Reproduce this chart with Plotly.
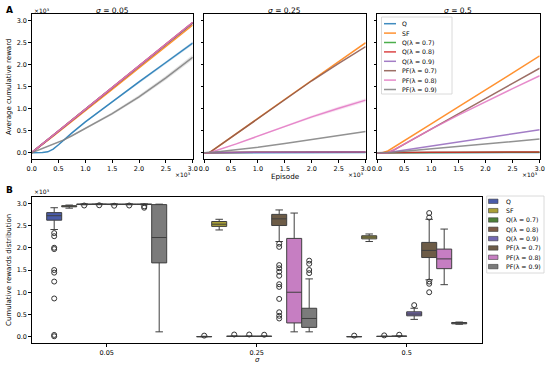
import plotly.graph_objects as go

W, H = 550, 366
FONT = "DejaVu Sans"


def px(x):
    return x / W


def py(y):
    return 1 - y / H


# ---------------- data ----------------
SERIES = ["Q", "SF", "Q(λ = 0.7)", "Q(λ = 0.8)", "Q(λ = 0.9)",
          "PF(λ = 0.7)", "PF(λ = 0.8)", "PF(λ = 0.9)"]
LINE_COLORS = ["#1f77b4", "#ff7f0e", "#2ca02c", "#d62728", "#9467bd",
               "#8c564b", "#e377c2", "#7f7f7f"]
BOX_COLORS = ["#4a5ba8", "#aaa036", "#4d8038", "#7e5b47", "#7468b2",
              "#6d5c47", "#c67ec2", "#7b7b7b"]
SIGMAS = ["0.05", "0.25", "0.5"]

EPISODES = [0, 100, 200, 300, 400, 500, 600, 750, 1000, 1500, 2000, 2500, 3000]

# sigma = 0.05
q_005 = [0, 0, 3, 20, 80, 180, 290, 450, 700, 1160, 1610, 2050, 2490]
sf_005 = [0, 90, 185, 280, 375, 475, 570, 715, 955, 1440, 1925, 2410, 2900]
q07_005 = [0, 95, 195, 295, 390, 490, 590, 740, 985, 1475, 1965, 2455, 2945]
q08_005 = [0, 98, 197, 296, 394, 493, 592, 740, 987, 1480, 1973, 2466, 2960]
q09_005 = [0, 96, 195, 294, 392, 490, 589, 737, 983, 1474, 1965, 2456, 2950]
pf07_005 = [0, 97, 196, 295, 393, 492, 590, 738, 985, 1477, 1969, 2461, 2955]
pf08_005 = [0, 98, 197, 296, 394, 493, 592, 740, 987, 1480, 1974, 2468, 2965]
pf09_005 = [0, 50, 100, 145, 195, 240, 290, 385, 550, 890, 1270, 1700, 2170]

# sigma = 0.25
q_025 = [0, 0, 1, 1, 1, 2, 2, 2, 2, 3, 3, 3, 3]
sf_025 = [0, 0, 85, 170, 255, 345, 430, 560, 780, 1215, 1645, 2075, 2500]
q07_025 = [0, 2, 4, 5, 6, 7, 7, 8, 9, 10, 10, 11, 12]
q08_025 = [0, 2, 4, 6, 7, 8, 8, 9, 10, 11, 12, 13, 14]
q09_025 = [0, 3, 5, 7, 8, 9, 10, 11, 12, 13, 14, 15, 16]
pf07_025 = [0, 0, 85, 170, 255, 345, 430, 560, 780, 1210, 1635, 2030, 2410]
pf08_025 = [0, 0, 40, 75, 115, 160, 200, 265, 375, 605, 815, 1010, 1195]
pf09_025 = [0, 0, 15, 28, 40, 55, 68, 88, 125, 210, 295, 385, 480]

# sigma = 0.5
q_05 = [0, 0, 1, 1, 1, 1, 2, 2, 2, 2, 2, 3, 3]
sf_05 = [0, 0, 40, 115, 190, 270, 350, 465, 655, 1040, 1430, 1815, 2200]
q07_05 = [0, 1, 2, 3, 4, 5, 5, 6, 6, 7, 8, 8, 9]
q08_05 = [0, 2, 4, 5, 6, 7, 8, 9, 10, 12, 13, 14, 15]
q09_05 = [0, 0, 0, 19, 37, 56, 74, 102, 149, 242, 334, 427, 520]
pf07_05 = [0, 0, 0, 55, 125, 195, 265, 365, 540, 885, 1230, 1575, 1920]
pf08_05 = [0, 0, 0, 55, 125, 195, 265, 365, 535, 855, 1160, 1455, 1750]
pf09_05 = [0, 0, 0, 11, 22, 33, 44, 61, 89, 144, 200, 255, 310]

# spread (shaded bands)
q_005_spread = [0, 0, 2, 5, 8, 10, 12, 14, 18, 22, 26, 30, 35]
pf09_005_spread = [0, 5, 8, 10, 12, 14, 16, 20, 25, 32, 40, 48, 55]
pf08_025_spread = [0, 0, 5, 8, 10, 12, 14, 16, 20, 26, 32, 38, 45]

CURVES = [
    [q_005, sf_005, q07_005, q08_005, q09_005, pf07_005, pf08_005, pf09_005],
    [q_025, sf_025, q07_025, q08_025, q09_025, pf07_025, pf08_025, pf09_025],
    [q_05, sf_05, q07_05, q08_05, q09_05, pf07_05, pf08_05, pf09_05],
]
BANDS = [(0, 0, q_005_spread), (0, 7, pf09_005_spread), (1, 6, pf08_025_spread)]

# Box statistics per series, one value per sigma (0.05, 0.25, 0.5)
box_q1 = {
    "Q": [2620, 0, 0], "SF": [2920, 2480, 2200], "Q(λ = 0.7)": [2972, 8, 5],
    "Q(λ = 0.8)": [2974, 8, 10], "Q(λ = 0.9)": [2972, 8, 470],
    "PF(λ = 0.7)": [2972, 2500, 1780], "PF(λ = 0.8)": [2972, 310, 1530],
    "PF(λ = 0.9)": [1660, 210, 290]}
box_med = {
    "Q": [2720, 0, 0], "SF": [2935, 2530, 2240], "Q(λ = 0.7)": [2977, 10, 8],
    "Q(λ = 0.8)": [2979, 10, 12], "Q(λ = 0.9)": [2977, 10, 510],
    "PF(λ = 0.7)": [2977, 2650, 1940], "PF(λ = 0.8)": [2977, 1000, 1750],
    "PF(λ = 0.9)": [2230, 410, 310]}
box_q3 = {
    "Q": [2790, 5, 3], "SF": [2945, 2590, 2270], "Q(λ = 0.7)": [2982, 12, 10],
    "Q(λ = 0.8)": [2984, 12, 15], "Q(λ = 0.9)": [2982, 12, 560],
    "PF(λ = 0.7)": [2982, 2750, 2120], "PF(λ = 0.8)": [2982, 2210, 1970],
    "PF(λ = 0.9)": [2970, 640, 320]}
box_lo = {
    "Q": [2410, 0, 0], "SF": [2890, 2400, 2140], "Q(λ = 0.7)": [2966, 5, 3],
    "Q(λ = 0.8)": [2968, 5, 5], "Q(λ = 0.9)": [2966, 5, 390],
    "PF(λ = 0.7)": [2966, 2140, 1280], "PF(λ = 0.8)": [2966, 110, 1170],
    "PF(λ = 0.9)": [110, 110, 280]}
box_hi = {
    "Q": [2900, 10, 5], "SF": [2960, 2640, 2310], "Q(λ = 0.7)": [2986, 15, 12],
    "Q(λ = 0.8)": [2988, 15, 20], "Q(λ = 0.9)": [2986, 15, 640],
    "PF(λ = 0.7)": [2986, 2850, 2640], "PF(λ = 0.8)": [2986, 2780, 2420],
    "PF(λ = 0.9)": [2980, 1300, 330]}
box_out = {
    "Q": [[2330, 2260, 2000, 1970, 1500, 1440, 1240, 860, 40, 10], [25], [25]],
    "SF": [[], [], []],
    "Q(λ = 0.7)": [[2950], [50], [30]],
    "Q(λ = 0.8)": [[2955], [50], [45]],
    "Q(λ = 0.9)": [[2945], [45], [710]],
    "PF(λ = 0.7)": [[2950], [2090, 2020, 1610, 1540, 1460, 1370, 1180, 1120, 850, 550, 470, 410],
                    [2780, 2680, 1240, 1190, 1000]],
    "PF(λ = 0.8)": [[2930, 2900], [], []],
    "PF(λ = 0.9)": [[], [1710, 1640, 1500, 1430], []]}

TICKS = [0, 500, 1000, 1500, 2000, 2500, 3000]
TICKTEXT = ["0.0", "0.5", "1.0", "1.5", "2.0", "2.5", "3.0"]


def rgba(hexc, a):
    h = hexc.lstrip("#")
    return "rgba(%d,%d,%d,%s)" % (int(h[0:2], 16), int(h[2:4], 16), int(h[4:6], 16), a)


fig = go.Figure()

# ---------------- Panel A: learning curves ----------------
for p in range(3):
    xa = "x" if p == 0 else "x%d" % (p + 1)
    ya = "y" if p == 0 else "y%d" % (p + 1)
    for (bp, si, spread) in BANDS:
        if bp != p:
            continue
        vals = CURVES[p][si]
        upper = [v + s for v, s in zip(vals, spread)]
        lower = [v - s for v, s in zip(vals, spread)]
        fig.add_trace(go.Scatter(
            x=EPISODES + EPISODES[::-1], y=upper + lower[::-1], fill="toself",
            fillcolor=rgba(LINE_COLORS[si], 0.2), line=dict(width=0),
            mode="lines", hoverinfo="skip", showlegend=False, xaxis=xa, yaxis=ya))
    for si, name in enumerate(SERIES):
        fig.add_trace(go.Scatter(
            x=EPISODES, y=CURVES[p][si], mode="lines", name=name,
            line=dict(color=LINE_COLORS[si], width=1.5), opacity=0.85,
            showlegend=False, xaxis=xa, yaxis=ya))

# ---------------- Panel B: boxes ----------------
for si, name in enumerate(SERIES):
    # sample points per sigma: the median (inside the box, not drawn) plus outliers
    samples = [[m] + o for m, o in zip(box_med[name], box_out[name])]
    fig.add_trace(go.Box(
        name=name, x=SIGMAS, y=samples,
        q1=box_q1[name], median=box_med[name], q3=box_q3[name],
        lowerfence=box_lo[name], upperfence=box_hi[name],
        boxpoints="outliers", pointpos=0, jitter=0,
        fillcolor=BOX_COLORS[si], line=dict(color="#3f3f3f", width=1),
        whiskerwidth=0.5,
        marker=dict(symbol="circle-open", size=5, color="#333333", line=dict(width=1)),
        showlegend=False, xaxis="x4", yaxis="y4"))

axis_common = dict(showline=True, linecolor="black", linewidth=0.8, mirror=True,
                   ticks="outside", ticklen=2.5, tickwidth=0.8, tickcolor="black",
                   showgrid=False, zeroline=False, automargin=False,
                   tickfont=dict(family=FONT, size=6.5, color="black"))

top_domains = [(31.7, 192.7), (204, 365.7), (377, 539.7)]
top_y = (py(159.3), py(14.1))
layout = dict(
    width=W, height=H, margin=dict(l=0, r=0, t=0, b=0, autoexpand=False),
    paper_bgcolor="white", plot_bgcolor="white", showlegend=False,
    boxmode="group", boxgap=0.2, boxgroupgap=0.0,
    font=dict(family=FONT, color="black"),
)
for p, (l, r) in enumerate(top_domains):
    sfx = "" if p == 0 else str(p + 1)
    layout["xaxis" + sfx] = dict(axis_common, domain=[px(l), px(r)], range=[0, 3000],
                                 tickvals=TICKS, ticktext=TICKTEXT,
                                 anchor="y" + sfx)
    layout["yaxis" + sfx] = dict(axis_common, domain=list(top_y), range=[-150, 3150],
                                 tickvals=TICKS, ticktext=TICKTEXT,
                                 showticklabels=(p == 0), anchor="x" + sfx)
layout["xaxis4"] = dict(axis_common, domain=[px(31.7), px(481.7)], type="category",
                        range=[-0.5, 2.5], anchor="y4")
layout["yaxis4"] = dict(axis_common, domain=[py(343.4), py(196.6)], range=[-150, 3150],
                        tickvals=TICKS, ticktext=TICKTEXT, anchor="x4")
fig.update_layout(**layout)

ann = []


def text(x, y, s, size=7, xanchor="center", yanchor="middle", angle=0):
    ann.append(dict(x=px(x), y=py(y), xref="paper", yref="paper", text=s,
                    showarrow=False, xanchor=xanchor, yanchor=yanchor, textangle=angle,
                    font=dict(family=FONT, size=size, color="black")))


text(9, 10, "<b>A</b>", size=9)
text(9, 190, "<b>B</b>", size=9)
for (l, r), sg in zip(top_domains, SIGMAS):
    text((l + r) / 2, 10, "<i>σ</i> = " + sg, size=7.5)
    text(r, 174.5, "×10³", size=6, xanchor="right")
text(31.7, 10, "×10³", size=6, xanchor="left")
text(31.7, 191, "×10³", size=6, xanchor="left")
text(285, 176.5, "Episode", size=7.2)
text(9, 87, "Average cumulative reward", size=7, angle=-90)
text(9, 270, "Cumulative rewards distribution", size=7, angle=-90)
text(257, 360, "<i>σ</i>", size=7)

shapes = []
# legend inside sigma=0.5 subplot
shapes.append(dict(type="rect", xref="paper", yref="paper", x0=px(381.5), x1=px(452),
                   y0=py(94), y1=py(17), line=dict(color="#d0d0d0", width=0.8),
                   fillcolor="rgba(255,255,255,0.85)", layer="above"))
for si, name in enumerate(SERIES):
    yy = 23.7 + 9.4 * si
    shapes.append(dict(type="line", xref="paper", yref="paper", x0=px(384), x1=px(396),
                       y0=py(yy), y1=py(yy), line=dict(color=LINE_COLORS[si], width=1.5),
                       layer="above", opacity=0.85))
    text(400, yy, name, size=6.2, xanchor="left")

# legend for box plot
shapes.append(dict(type="rect", xref="paper", yref="paper", x0=px(486.7), x1=px(544),
                   y0=py(273), y1=py(196), line=dict(color="#d0d0d0", width=0.8),
                   fillcolor="white", layer="above"))
for si, name in enumerate(SERIES):
    yy = 201.3 + 9.33 * si
    shapes.append(dict(type="rect", xref="paper", yref="paper", x0=px(488.5), x1=px(498),
                       y0=py(yy + 2.2), y1=py(yy - 2.2), fillcolor=BOX_COLORS[si],
                       line=dict(color="#3f3f3f", width=0.6), layer="above"))
    text(503.5, yy, name, size=6.2, xanchor="left")

fig.update_layout(annotations=ann, shapes=shapes)
fig.write_html("out.html", config={"displayModeBar": False},
               post_script="document.body.style.margin='0px';")
